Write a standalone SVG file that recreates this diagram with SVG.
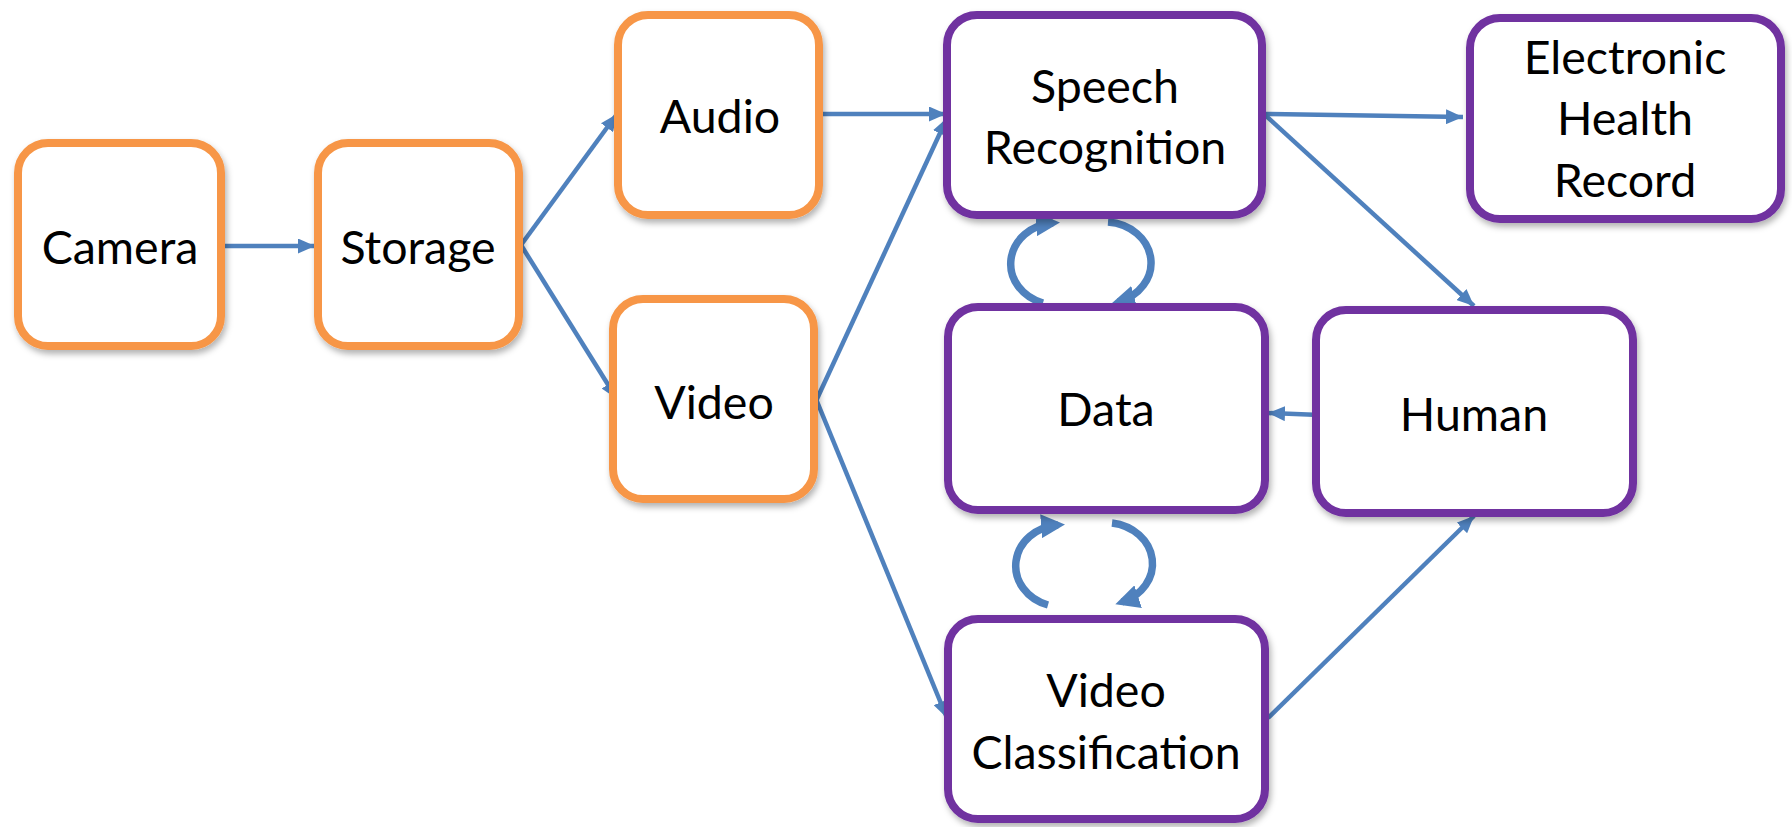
<svg xmlns="http://www.w3.org/2000/svg" width="1792" height="827" viewBox="0 0 1792 827">
<defs>
<filter id="sh" x="-10%" y="-10%" width="130%" height="130%">
<feDropShadow dx="2" dy="4" stdDeviation="3" flood-color="#000" flood-opacity="0.3"/>
</filter>
<marker id="ah" viewBox="0 0 17 15" refX="17" refY="7.5" markerWidth="17" markerHeight="15" markerUnits="userSpaceOnUse" orient="auto">
<path d="M0,0 L17,7.5 L0,15 Z" fill="#4F81BD"/>
</marker>
<marker id="ahb" viewBox="0 0 24 24" refX="17" refY="12" markerWidth="24" markerHeight="24" markerUnits="userSpaceOnUse" orient="auto">
<path d="M0,0 L24,12 L0,24 Z" fill="#4F81BD"/>
</marker>
</defs>
<style>
.o{fill:#fff;stroke:#F79646;stroke-width:8}
.p{fill:#fff;stroke:#7030A0;stroke-width:8}
.t{font-family:Lato,"Open Sans",sans-serif;font-size:46.5px;fill:#000;text-anchor:middle}
.c{fill:none;stroke:#4F81BD;stroke-width:4.5}
.cb{fill:none;stroke:#4F81BD;stroke-width:7.5}
</style>
<g id="connectors">
<line class="c" x1="223" y1="246" x2="315" y2="246" marker-end="url(#ah)"/>
<line class="c" x1="521" y1="245" x2="617" y2="114" marker-end="url(#ah)"/>
<line class="c" x1="521" y1="245" x2="617" y2="399" marker-end="url(#ah)"/>
<line class="c" x1="822" y1="114" x2="946" y2="114" marker-end="url(#ah)"/>
<line class="c" x1="816" y1="401" x2="947" y2="118" marker-end="url(#ah)"/>
<line class="c" x1="816" y1="399" x2="947" y2="718" marker-end="url(#ah)"/>
<line class="c" x1="1264" y1="114" x2="1463" y2="117" marker-end="url(#ah)"/>
<line class="c" x1="1264" y1="114" x2="1474" y2="306" marker-end="url(#ah)"/>
<line class="c" x1="1320" y1="415" x2="1268" y2="413" marker-end="url(#ah)"/>
<line class="c" x1="1268" y1="718" x2="1474" y2="516" marker-end="url(#ah)"/>
<path class="cb" d="M1043,303 A46 41 0 0 1 1053,223" marker-end="url(#ahb)"/>
<path class="cb" d="M1108,222 A47 41 0 0 1 1118,302" marker-end="url(#ahb)"/>
<path class="cb" d="M1048,605 A46 41 0 0 1 1058,525" marker-end="url(#ahb)"/>
<path class="cb" d="M1112,523 A47 41 0 0 1 1122,602" marker-end="url(#ahb)"/>
</g>
<g id="camera"><rect class="o" x="18" y="143" width="203" height="203" rx="30" filter="url(#sh)"/><text class="t" x="120" y="264">Camera</text></g>
<g id="storage"><rect class="o" x="318" y="143" width="201" height="203" rx="30" filter="url(#sh)"/><text class="t" x="418" y="264">Storage</text></g>
<g id="audio"><rect class="o" x="618" y="15" width="201" height="200" rx="30" filter="url(#sh)"/><text class="t" x="720" y="133">Audio</text></g>
<g id="video"><rect class="o" x="613" y="299" width="201" height="200" rx="30" filter="url(#sh)"/><text class="t" x="714" y="419">Video</text></g>
<g id="speech"><rect class="p" x="947" y="15" width="315" height="200" rx="30" filter="url(#sh)"/><text class="t" x="1105" y="103">Speech</text><text class="t" x="1105" y="164">Recognition</text></g>
<g id="ehr"><rect class="p" x="1470" y="18" width="311" height="201" rx="30" filter="url(#sh)"/><text class="t" x="1625" y="74">Electronic</text><text class="t" x="1625" y="135">Health</text><text class="t" x="1625" y="197">Record</text></g>
<g id="data"><rect class="p" x="948" y="307" width="317" height="203" rx="30" filter="url(#sh)"/><text class="t" x="1106" y="426">Data</text></g>
<g id="human"><rect class="p" x="1316" y="310" width="317" height="203" rx="30" filter="url(#sh)"/><text class="t" x="1474" y="431">Human</text></g>
<g id="videoclass"><rect class="p" x="948" y="619" width="317" height="200" rx="30" filter="url(#sh)"/><text class="t" x="1106" y="707">Video</text><text class="t" x="1106" y="769">Classification</text></g>
</svg>
